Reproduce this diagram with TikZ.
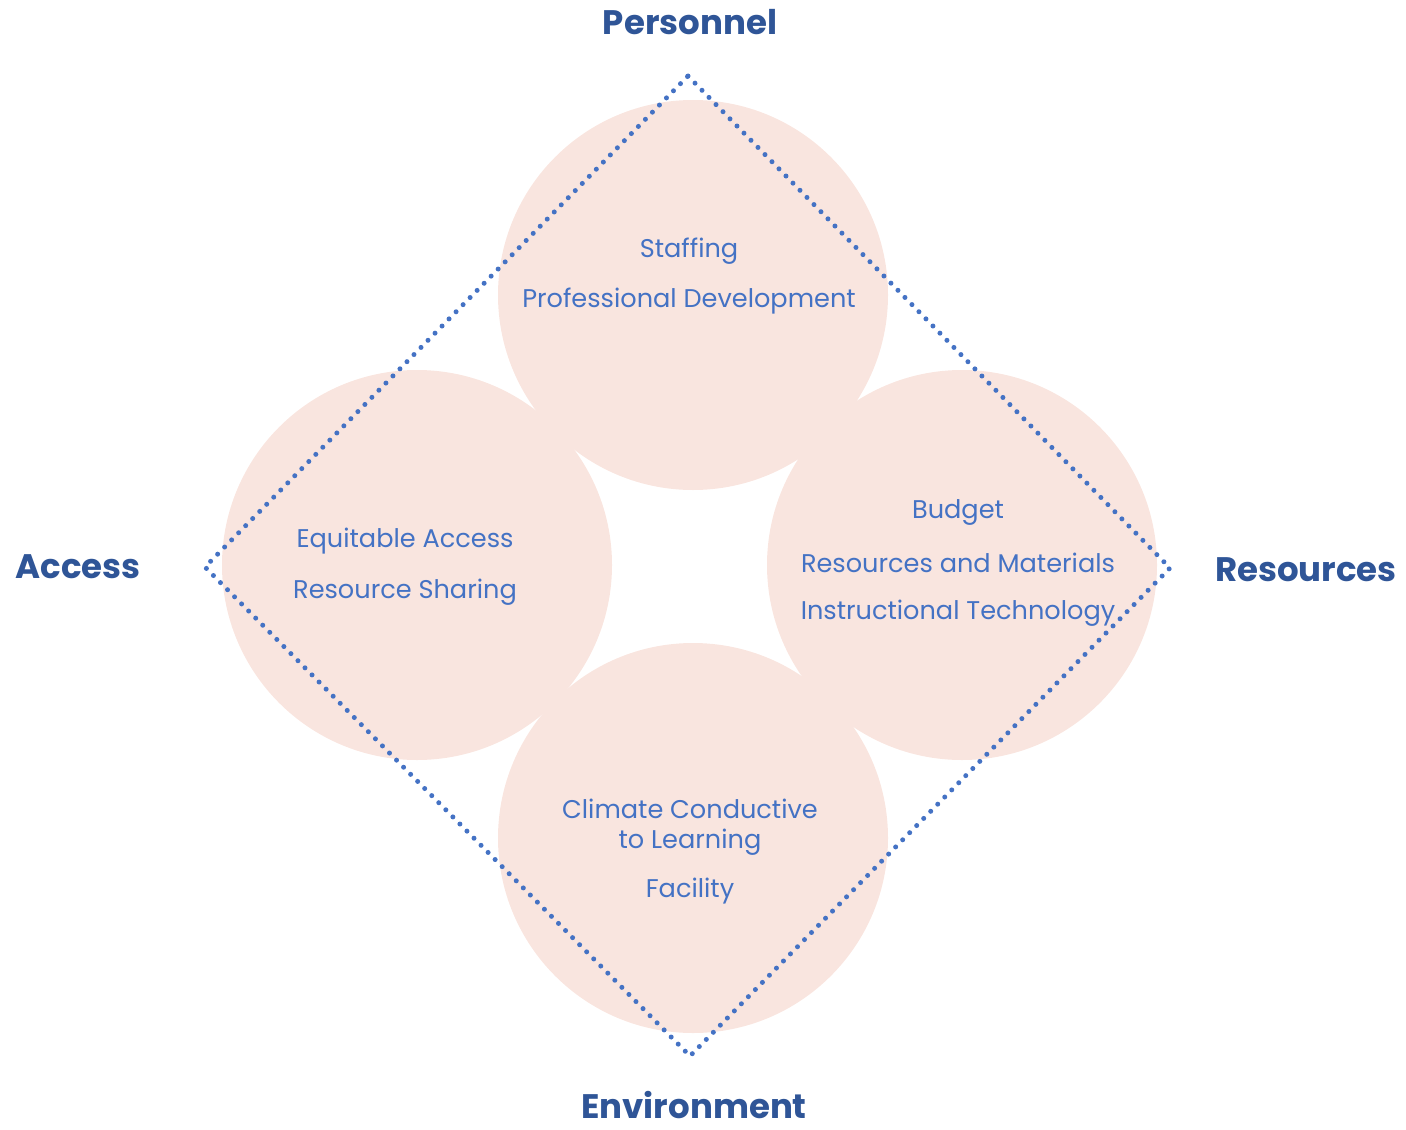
\documentclass[tikz,border=0pt]{standalone}
\usepackage{fontspec}
\setmainfont{Poppins}
\definecolor{petal}{HTML}{F9E5DF}
\definecolor{itemblue}{HTML}{4472C4}
\definecolor{headblue}{HTML}{2F5597}
\begin{document}
\begin{tikzpicture}[x=0.5pt,y=-0.5pt,
    bubble/.style={circle, fill=petal, minimum size=195pt, inner sep=0pt},
    item/.style={text=itemblue, font=\fontsize{12.8}{15}\selectfont, inner sep=0pt, align=center},
    head/.style={text=headblue, font=\bfseries\fontsize{17}{20}\selectfont, inner sep=0pt},
    dots/.style={itemblue, line width=2.5pt, line cap=round, dash pattern=on 0pt off 5pt}]
  \useasboundingbox (0,0) rectangle (1406,1129);
  % the four circles
  \node[bubble] (top) at (693,295) {};
  \node[bubble] (left) at (417,565) {};
  \node[bubble] (right) at (962,565) {};
  \node[bubble] (bottom) at (693,838) {};
  % dotted diamond
  \coordinate (n) at (688,76);
  \coordinate (e) at (1170,568);
  \coordinate (s) at (690,1056);
  \coordinate (w) at (205,567);
  \draw[dots] (n) -- (e) -- (s) -- (w) -- cycle;
  % headings
  \node[head] (personnel) at (690,22) {Personnel};
  \node[head] (access) at (78,567) {Access};
  \node[head] (resources) at (1306,570) {Resources};
  \node[head] (environment) at (694,1105) {Environment};
  % items
  \node[item] at (689,251) {Staffing};
  \node[item] at (689,301) {Professional Development};
  \node[item] at (405,541) {Equitable Access};
  \node[item] at (405,592) {Resource Sharing};
  \node[item] at (958,512) {Budget};
  \node[item] at (958,563) {Resources and Materials};
  \node[item] at (958,613) {Instructional Technology};
  \node[item] at (690,827) {Climate Conductive\\to Learning};
  \node[item] at (690,891) {Facility};
\end{tikzpicture}
\end{document}
